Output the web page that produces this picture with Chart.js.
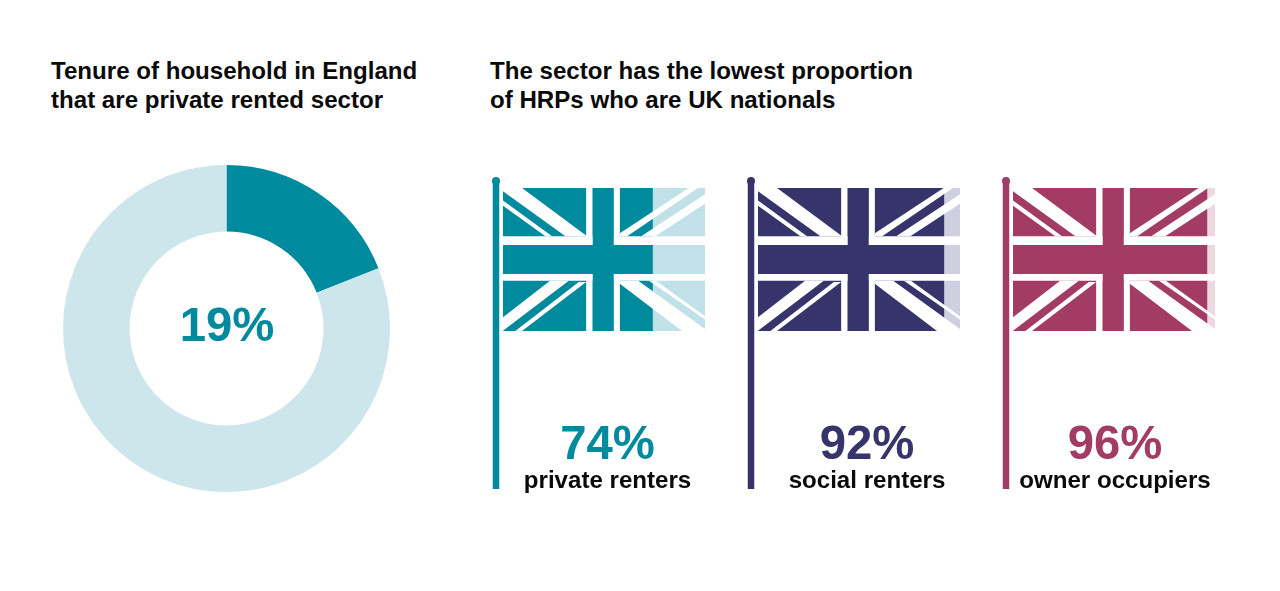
<!DOCTYPE html>
<html><head><meta charset="utf-8">
<script src="https://cdn.jsdelivr.net/npm/chart.js@4"></script>
<style>
html,body{margin:0;padding:0;background:#fff;width:1280px;height:591px;overflow:hidden;font-family:"Liberation Sans",Arial,sans-serif}
canvas{position:absolute}
.t{position:absolute;font-weight:700;white-space:nowrap;color:#0a0a0a}
.title{font-size:24.1px;line-height:29px}
.pct{font-size:47.3px;line-height:50px;transform:translateX(-50%)}
.lab{font-size:24.1px;line-height:28px;transform:translateX(-50%)}
</style></head><body>
<div class="t title" id="t1" style="left:51px;top:56px"></div>
<div class="t title" id="t2" style="left:490px;top:56px"></div>
<canvas id="donut" width="327" height="327" style="left:63px;top:165px;width:327px;height:327px"></canvas>
<div class="t pct" id="dv" style="left:227px;top:300px"></div>
<script>
const titleLeft = ["Tenure of household in England","that are private rented sector"];
const titleRight = ["The sector has the lowest proportion","of HRPs who are UK nationals"];
const tenureLabels = ["Private rented sector","Other tenures"];
const tenureValues = [19,81];
const flagLabels = ["private renters","social renters","owner occupiers"];
const flagValues = [74,92,96];
const flagColors = ["#008a9e","#37336b","#a23c65"];
const flagPale = ["#c0e1e7","#cfcfdf","#eed8e1"];
const donutPale = "#cde6ec";

document.getElementById('t1').innerHTML = titleLeft.join('<br>');
document.getElementById('t2').innerHTML = titleRight.join('<br>');
const dv = document.getElementById('dv');
dv.textContent = tenureValues[0] + '%'; dv.style.color = flagColors[0];

new Chart(document.getElementById('donut'),{
  type:'doughnut',
  data:{labels:tenureLabels,datasets:[{data:tenureValues,backgroundColor:[flagColors[0],donutPale],borderWidth:0}]},
  options:{responsive:false,animation:false,cutout:'59.3%',layout:{padding:0},
    plugins:{legend:{display:false},tooltip:{enabled:false}}}
});

// Union-jack overlay in a 605x427 design grid, painted white over the bar
const W=[
 [[249,0],[268,0],[268,170],[249,170]],
 [[332,0],[350,0],[350,170],[332,170]],
 [[249,257],[268,257],[268,427],[249,427]],
 [[332,257],[350,257],[350,427],[332,427]],
 [[0,144],[268,144],[268,170],[0,170]],
 [[332,144],[605,144],[605,170],[332,170]],
 [[0,257],[268,257],[268,277],[0,277]],
 [[332,257],[605,257],[605,277],[332,277]],
 // top-left
 [[0,0],[57,0],[249,142],[249,144],[187,144],[0,10]],
 [[0,37],[147,144],[127,144],[0,53]],
 // top-right
 [[350,135],[556,0],[584,0],[372,144],[350,144]],
 [[414,144],[605,19],[605,47],[456,144]],
 // bottom-left
 [[141,277],[197,277],[192,281],[0,426],[0,386]],
 [[227,281],[249,281],[57,427],[37,427]],
 // bottom-right
 [[350,286],[350,277],[405,277],[605,421],[605,427],[536,427]],
 [[437,277],[458,277],[605,383],[605,393]]
];
const pole={x:-7,top:-7,bottom:301,w:6.5,r:4};
const flagPlugin={id:'flag',afterDatasetsDraw(c,args,o){
  const a=c.chartArea,ctx=c.ctx,sx=a.width/605,sy=a.height/427;
  ctx.save();ctx.fillStyle='#fff';
  for(const p of W){ctx.beginPath();p.forEach(([x,y],i)=>{const X=a.left+x*sx,Y=a.top+y*sy;i?ctx.lineTo(X,Y):ctx.moveTo(X,Y)});ctx.closePath();ctx.fill();}
  ctx.fillStyle=o.color;
  ctx.fillRect(a.left+pole.x-pole.w/2,a.top+pole.top,pole.w,pole.bottom-pole.top);
  ctx.beginPath();ctx.arc(a.left+pole.x,a.top+pole.top,pole.r,0,Math.PI*2);ctx.fill();
  ctx.restore();
}};
const flagLeft=[503,758,1013], flagTextX=[607.5,867,1115];
flagValues.forEach((v,i)=>{
  const cv=document.createElement('canvas');
  const L=flagLeft[i]-20,T=170,CW=240,CH=330;
  cv.width=CW;cv.height=CH;cv.style.cssText=`left:${L}px;top:${T}px;width:${CW}px;height:${CH}px`;
  document.body.appendChild(cv);
  new Chart(cv,{
    type:'bar',plugins:[flagPlugin],
    data:{labels:[flagLabels[i]],datasets:[
      {data:[v],backgroundColor:flagColors[i],borderWidth:0,barPercentage:1,categoryPercentage:1},
      {data:[100-v],backgroundColor:flagPale[i],borderWidth:0,barPercentage:1,categoryPercentage:1}]},
    options:{indexAxis:'y',responsive:false,animation:false,
      layout:{padding:{left:20,right:CW-20-202,top:18,bottom:CH-18-143}},
      scales:{x:{display:false,stacked:true,min:0,max:100},y:{display:false,stacked:true}},
      plugins:{legend:{display:false},tooltip:{enabled:false},flag:{color:flagColors[i]}}}
  });
  const p=document.createElement('div');p.className='t pct';p.textContent=v+'%';
  p.style.cssText=`left:${flagTextX[i]}px;top:418px;color:${flagColors[i]}`;document.body.appendChild(p);
  const l=document.createElement('div');l.className='t lab';l.textContent=flagLabels[i];
  l.style.cssText=`left:${flagTextX[i]}px;top:466px`;document.body.appendChild(l);
});
</script>
</body></html>
